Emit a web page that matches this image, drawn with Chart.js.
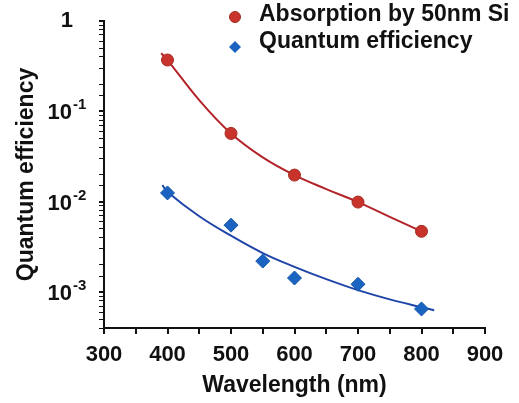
<!DOCTYPE html>
<html>
<head>
<meta charset="utf-8">
<script src="https://cdn.jsdelivr.net/npm/chart.js@4"></script>
<style>
  html, body { margin: 0; padding: 0; background: #fff; }
</style>
</head>
<body>
<canvas id="chart" width="519" height="403"></canvas>
<script>
// measured points
const wavelengths = [400, 500, 600, 700, 800];
const absorption = [0.37, 0.057, 0.0197, 0.0099, 0.0047];
const qeWavelengths = [400, 500, 550, 600, 700, 800];
const quantumEff = [0.0125, 0.0055, 0.0022, 0.00143, 0.00122, 0.00065];

// fitted curves
const absFitX = [390, 400, 450, 500, 550, 600, 650, 700, 750, 800];
const absFitY = [0.44, 0.37, 0.133, 0.057, 0.031, 0.0197, 0.0138, 0.0099, 0.0068, 0.0047];
const qeFitX = [392, 400, 450, 500, 550, 600, 650, 700, 750, 800, 820];
const qeFitY = [0.0153, 0.0128, 0.0069, 0.0042, 0.0027, 0.0019, 0.00139, 0.00105, 0.00083, 0.00068, 0.00063];

const xTicks = [300, 400, 500, 600, 700, 800, 900];
const yTicks = [1, 0.1, 0.01, 0.001];
const yTickExp = ['', '-1', '-2', '-3'];

const RED = '#c8332b';
const BLUE = '#1b63c0';
const INK = '#111';
const FAMILY = '"Liberation Sans", Arial, sans-serif';
const TICK_FONT = { family: FAMILY, size: 22, weight: 'bold' };
const TITLE_FONT = { family: FAMILY, size: 23, weight: 'bold' };

function pts(xs, ys) {
  return xs.map((x, i) => ({ x: x, y: ys[i] }));
}

function isDecade(v) {
  const e = Math.log10(v);
  return Math.abs(e - Math.round(e)) < 1e-6;
}

// y tick labels with superscripts, plus the legend
const extras = {
  id: 'extras',
  afterDraw(c) {
    const ctx = c.ctx;
    const y = c.scales.y;
    ctx.save();
    ctx.fillStyle = INK;
    ctx.textBaseline = 'middle';
    yTicks.forEach((v, i) => {
      const py = y.getPixelForValue(v);
      ctx.font = 'bold 22px ' + FAMILY;
      ctx.textAlign = 'right';
      if (!yTickExp[i]) {
        ctx.fillText('1', 73, py);
      } else {
        ctx.fillText('10', 72, py + 2);
        ctx.font = 'bold 15px ' + FAMILY;
        ctx.textAlign = 'left';
        ctx.fillText(yTickExp[i], 73, py - 6);
      }
    });

    // legend
    ctx.beginPath();
    ctx.arc(235, 17, 5.5, 0, Math.PI * 2);
    ctx.fillStyle = RED;
    ctx.fill();
    ctx.strokeStyle = '#a52a22';
    ctx.lineWidth = 1;
    ctx.stroke();

    ctx.beginPath();
    ctx.moveTo(235, 41);
    ctx.lineTo(241, 47);
    ctx.lineTo(235, 53);
    ctx.lineTo(229, 47);
    ctx.closePath();
    ctx.fillStyle = BLUE;
    ctx.fill();

    ctx.fillStyle = INK;
    ctx.font = 'bold 23px ' + FAMILY;
    ctx.textAlign = 'left';
    ctx.fillText('Absorption by 50nm Si', 259, 15);
    ctx.fillText('Quantum efficiency', 259, 42);
    ctx.restore();
  }
};

new Chart(document.getElementById('chart'), {
  type: 'line',
  data: {
    datasets: [
      {
        data: pts(wavelengths, absorption),
        showLine: false,
        pointStyle: 'circle',
        pointRadius: 6,
        backgroundColor: RED,
        borderColor: '#a52a22',
        pointBorderWidth: 1,
        order: 0
      },
      {
        data: pts(qeWavelengths, quantumEff),
        showLine: false,
        pointStyle: 'rectRot',
        pointRadius: 7,
        backgroundColor: BLUE,
        borderColor: '#1656a8',
        pointBorderWidth: 1,
        order: 0
      },
      {
        data: pts(absFitX, absFitY),
        borderColor: '#b3242a',
        borderWidth: 2,
        pointRadius: 0,
        tension: 0.4,
        order: 1
      },
      {
        data: pts(qeFitX, qeFitY),
        borderColor: '#1f45a8',
        borderWidth: 2,
        pointRadius: 0,
        tension: 0.4,
        order: 1
      }
    ]
  },
  options: {
    responsive: false,
    animation: false,
    layout: { padding: { top: 21, right: 34, left: 0, bottom: 0 } },
    plugins: { legend: { display: false }, tooltip: { enabled: false } },
    scales: {
      x: {
        type: 'linear',
        min: 300,
        max: 900,
        ticks: {
          stepSize: 50,
          autoSkip: false,
          maxRotation: 0,
          padding: 8,
          color: INK,
          font: TICK_FONT,
          callback: v => xTicks.includes(v) ? String(v) : ''
        },
        grid: { drawOnChartArea: false, tickLength: 6, color: INK, lineWidth: 2 },
        border: { color: INK, width: 2 },
        title: {
          display: true,
          text: 'Wavelength (nm)',
          color: INK,
          font: TITLE_FONT,
          padding: { top: 0, bottom: 4 }
        },
        afterFit: s => { s.height = 75; }
      },
      y: {
        type: 'logarithmic',
        min: 4e-4,
        max: 1,
        ticks: { display: false, autoSkip: false },
        grid: {
          drawOnChartArea: false,
          tickLength: 5,
          color: INK,
          lineWidth: ctx => (ctx.tick && isDecade(ctx.tick.value)) ? 2 : 1
        },
        border: { color: INK, width: 2 },
        title: {
          display: true,
          text: 'Quantum efficiency',
          color: INK,
          font: TITLE_FONT,
          padding: { top: 13, bottom: 0 }
        },
        afterFit: s => { s.width = 104; }
      }
    }
  },
  plugins: [extras]
});
</script>
</body>
</html>
